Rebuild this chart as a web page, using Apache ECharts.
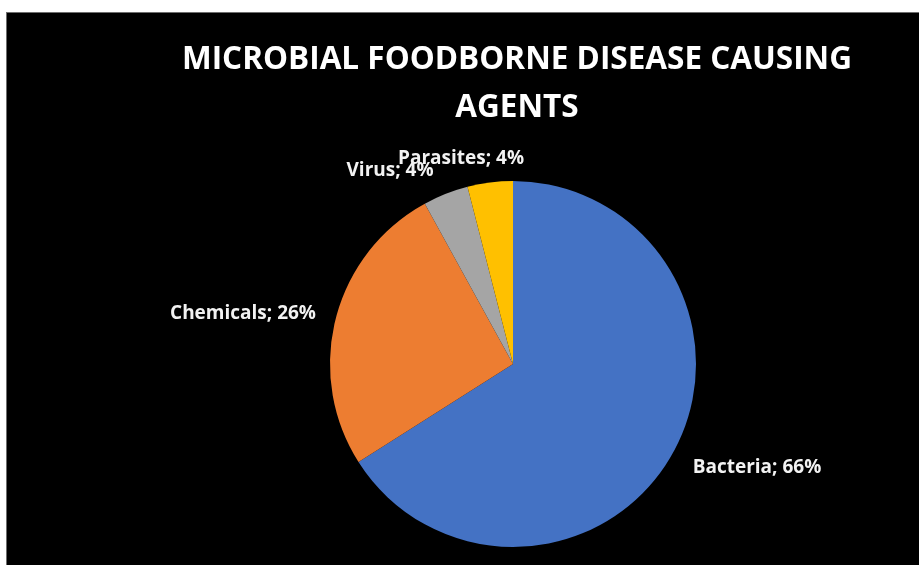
<!DOCTYPE html>
<html>
<head>
<meta charset="utf-8">
<script src="https://cdn.jsdelivr.net/npm/echarts@6/dist/echarts.min.js"></script>
<style>
html,body{margin:0;padding:0;background:#ffffff;width:919px;height:565px;overflow:hidden;}
#chart{position:absolute;left:6px;top:12px;width:913px;height:553px;background:#000;border-top:1px solid #6e6e6e;border-left:1px solid #6e6e6e;box-sizing:border-box;}
</style>
</head>
<body>
<div id="chart"></div>
<script>
const titleText = 'MICROBIAL FOODBORNE DISEASE CAUSING\nAGENTS';
const categories = ['Bacteria', 'Chemicals', 'Virus', 'Parasites'];
const values = [66, 26, 4, 4];
const colors = ['#4472C4', '#ED7D31', '#A5A5A5', '#FFC000'];
// label anchor positions inside the chart box (text placement only)
const labelPos = [[750, 455], [236, 301], [383, 158], [454, 146]];

const chart = echarts.init(document.getElementById('chart'), null, {renderer: 'canvas'});
chart.setOption({
  backgroundColor: '#000',
  animation: false,
  graphic: [{
    type: 'text',
    x: 510,
    y: 23,
    style: {
      text: titleText,
      fill: '#ffffff',
      font: 'bold 31.5px "Open Sans"',
      textAlign: 'center',
      textVerticalAlign: 'top',
      lineHeight: 48
    }
  }],
  series: [{
    type: 'pie',
    center: [506, 351],
    radius: 183,
    startAngle: 90,
    clockwise: true,
    avoidLabelOverlap: false,
    data: categories.map((c, i) => ({name: c, value: values[i], itemStyle: {color: colors[i]}})),
    itemStyle: {borderWidth: 0},
    label: {
      show: true,
      position: 'outside',
      formatter: p => p.name + '; ' + Math.round(p.percent) + '%',
      color: '#f2f2f2',
      fontFamily: 'Open Sans',
      fontWeight: 'bold',
      fontSize: 19
    },
    labelLine: {show: false},
    labelLayout: function (params) {
      const p = labelPos[params.dataIndex];
      return {x: p[0], y: p[1], align: 'center', verticalAlign: 'middle', hideOverlap: false};
    }
  }]
});
</script>
</body>
</html>
